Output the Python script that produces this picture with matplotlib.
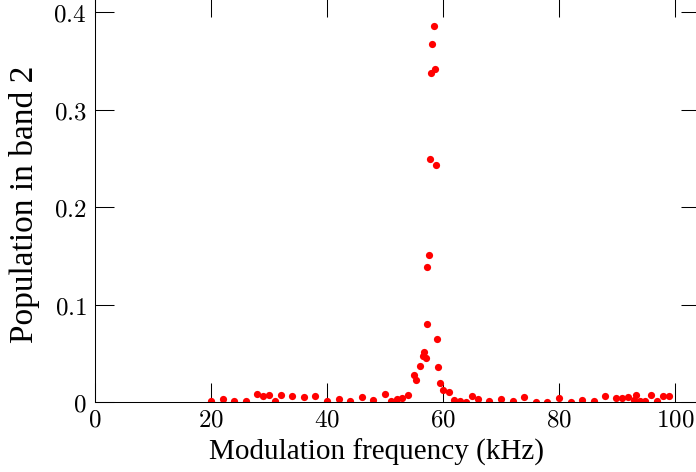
import matplotlib
matplotlib.use("Agg")
import matplotlib.pyplot as plt
from matplotlib.ticker import FuncFormatter

plt.rcParams["mathtext.fontset"] = "cm"

# Modulation frequency (kHz) and resulting population in band 2
freq_khz = [
    20.0, 22.0, 24.0, 26.0, 28.0, 29.0, 30.0, 31.0, 32.0, 34.0, 36.0, 38.0,
    40.0, 42.0, 44.0, 46.0, 48.0, 50.0, 51.0, 52.0, 53.0, 54.0,
    55.0, 55.4, 56.0, 56.5, 56.8, 57.0, 57.2, 57.3, 57.6, 57.8, 57.9, 58.15,
    58.4, 58.6, 58.8, 59.0, 59.2, 59.4, 60.0, 61.0, 61.9, 62.9, 64.0, 65.0,
    66.0, 68.0, 70.0, 72.0, 74.0, 76.0, 78.0, 80.0, 82.0, 84.0, 86.0, 88.0,
    89.8, 90.9, 91.9, 92.9, 93.3, 94.0, 94.9, 95.8, 96.9, 97.9, 98.9,
]
population = [
    0.001, 0.003, 0.001, 0.001, 0.008, 0.006, 0.007, 0.001, 0.007, 0.0065, 0.005, 0.0065,
    0.001, 0.003, 0.001, 0.005, 0.002, 0.008, 0.0015, 0.003, 0.004, 0.007,
    0.028, 0.023, 0.037, 0.047, 0.051, 0.045, 0.080, 0.138, 0.151, 0.249, 0.337, 0.367,
    0.386, 0.342, 0.243, 0.065, 0.036, 0.020, 0.012, 0.010, 0.002, 0.001, 0.0005, 0.006,
    0.003, 0.001, 0.003, 0.001, 0.005, 0.000, 0.0003, 0.0045, 0.000, 0.002, 0.0015, 0.0065,
    0.0045, 0.0045, 0.0055, 0.002, 0.007, 0.001, 0.001, 0.007, 0.001, 0.0065, 0.0065,
]

x_ticks = [0, 20, 40, 60, 80, 100]
y_ticks = [0, 0.1, 0.2, 0.3, 0.4]

W, H = 696, 472
fig = plt.figure(figsize=(W / 100, H / 100), dpi=100)
ax = fig.add_axes([95 / W, 70 / H, 605 / W, 404 / H])

ax.plot(freq_khz, population, "o", color="#ff0000", ms=5.2, mec="none")

ax.set_xlim(0, 104.3)
ax.set_ylim(0, 0.4144)
ax.set_xticks(x_ticks)
ax.set_yticks(y_ticks)
ax.xaxis.set_major_formatter(FuncFormatter(lambda v, p: f"${v:g}$"))
ax.yaxis.set_major_formatter(FuncFormatter(lambda v, p: f"${v:g}$"))

for s in ax.spines.values():
    s.set_linewidth(0.75)
    s.set_color("black")

ax.tick_params(axis="both", which="major", direction="in", length=13.5, width=0.75,
               top=True, right=True, labelsize=18, color="black")
ax.tick_params(axis="x", pad=4)
ax.tick_params(axis="y", pad=6)

ax.set_xlabel("Modulation frequency (kHz)", family="Liberation Serif", size=21)
ax.set_ylabel("Population in band 2", family="Liberation Serif", size=24)
ax.xaxis.set_label_coords(0.465, -0.092)
ax.yaxis.set_label_coords(-0.091, 0.49)

fig.savefig("out.png", dpi=100)
